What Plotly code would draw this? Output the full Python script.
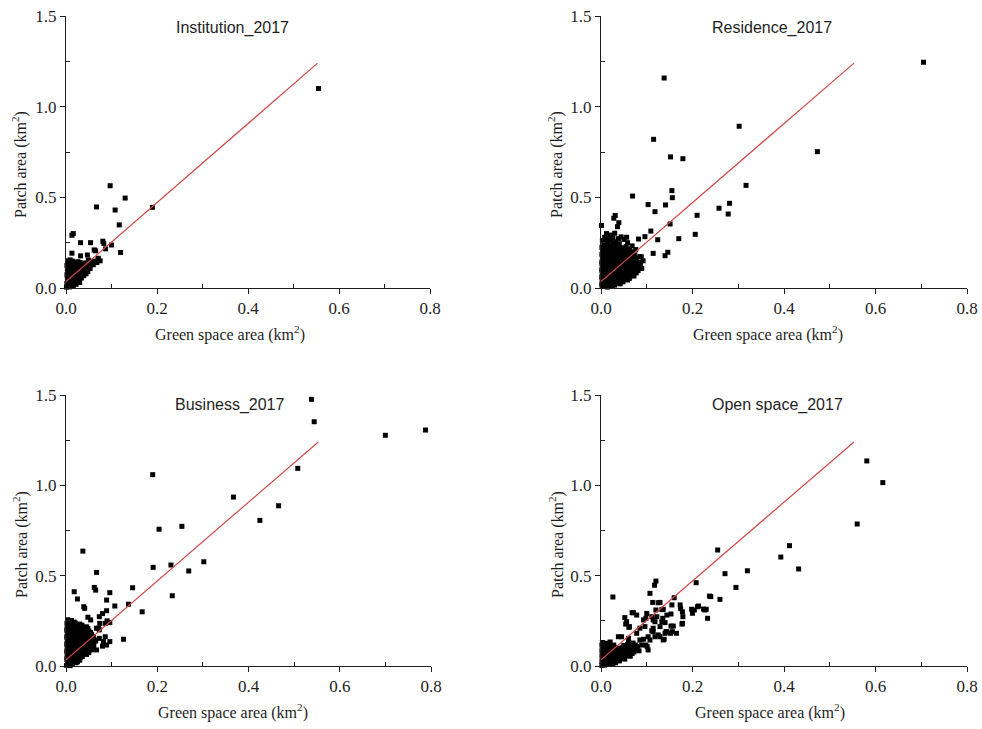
import plotly.graph_objects as go

# ---------------------------------------------------------------------------
# Green space area vs. patch area (km2), four land-use types, 2017
# ---------------------------------------------------------------------------

panel_titles = ["Institution_2017", "Residence_2017", "Business_2017", "Open space_2017"]

x_label = "Green space area (km<sup>2</sup>)"
y_label = "Patch area (km<sup>2</sup>)"

x_tick_vals = [0.0, 0.2, 0.4, 0.6, 0.8]
y_tick_vals = [0.0, 0.5, 1.0, 1.5]

# fitted relation drawn in every panel (end points of the line)
fit_x = [0.0, 0.553]
fit_y = [0.035, 1.24]

institution_pts = [
    (0.555, 1.100), (0.190, 0.445), (0.097, 0.564), (0.130, 0.496), (0.067, 0.447),
    (0.108, 0.430), (0.117, 0.348), (0.120, 0.196), (0.100, 0.237), (0.081, 0.258),
    (0.083, 0.246), (0.087, 0.216), (0.016, 0.300), (0.013, 0.291), (0.032, 0.250),
    (0.054, 0.250), (0.013, 0.192), (0.032, 0.177), (0.047, 0.182), (0.062, 0.210),
    (0.065, 0.205), (0.049, 0.154), (0.071, 0.164), (0.075, 0.150), (0.066, 0.145),
    (0.053, 0.108), (0.042, 0.099), (0.068, 0.140), (0.070, 0.156),
    (0.001, 0.005), (0.004, 0.012), (0.008, 0.006), (0.012, 0.018), (0.002, 0.025),
    (0.006, 0.032), (0.010, 0.040), (0.015, 0.030), (0.018, 0.045), (0.003, 0.048),
    (0.008, 0.058), (0.013, 0.062), (0.020, 0.058), (0.024, 0.070), (0.028, 0.062),
    (0.002, 0.072), (0.006, 0.082), (0.011, 0.088), (0.016, 0.078), (0.022, 0.090),
    (0.027, 0.084), (0.031, 0.096), (0.035, 0.088), (0.038, 0.104), (0.003, 0.098),
    (0.007, 0.110), (0.012, 0.104), (0.017, 0.116), (0.023, 0.112), (0.028, 0.120),
    (0.033, 0.115), (0.040, 0.122), (0.045, 0.112), (0.002, 0.125), (0.006, 0.138),
    (0.011, 0.132), (0.016, 0.142), (0.021, 0.136), (0.026, 0.145), (0.031, 0.140),
    (0.004, 0.150), (0.009, 0.155), (0.014, 0.148), (0.019, 0.040), (0.024, 0.035),
    (0.029, 0.048), (0.034, 0.055), (0.039, 0.068), (0.044, 0.078), (0.048, 0.090),
    (0.052, 0.125), (0.056, 0.135), (0.060, 0.128), (0.058, 0.148), (0.036, 0.130),
    (0.042, 0.138), (0.022, 0.020), (0.030, 0.030), (0.016, 0.010), (0.026, 0.050),
]

residence_pts = [
    (0.705, 1.245), (0.138, 1.158), (0.302, 0.892), (0.115, 0.820), (0.473, 0.752),
    (0.152, 0.723), (0.179, 0.713), (0.317, 0.566), (0.069, 0.507), (0.155, 0.537),
    (0.156, 0.498), (0.103, 0.460), (0.141, 0.458), (0.118, 0.421), (0.281, 0.467),
    (0.258, 0.440), (0.278, 0.408), (0.210, 0.401), (0.206, 0.296), (0.151, 0.353),
    (0.170, 0.272), (0.124, 0.266), (0.109, 0.314), (0.096, 0.283), (0.114, 0.191),
    (0.140, 0.178), (0.146, 0.197), (0.085, 0.173), (0.082, 0.270), (0.031, 0.400),
    (0.028, 0.385), (0.039, 0.360), (0.036, 0.338), (0.056, 0.280), (0.001, 0.345),
    (0.012, 0.300), (0.022, 0.292), (0.030, 0.302), (0.044, 0.282), (0.050, 0.268),
    (0.058, 0.250), (0.068, 0.232), (0.076, 0.212), (0.088, 0.172), (0.092, 0.150),
    (0.062, 0.215), (0.008, 0.280), (0.017, 0.278), (0.026, 0.275), (0.038, 0.272),
    (0.003, 0.262), (0.012, 0.258), (0.022, 0.266), (0.032, 0.255),
    (0.006, 0.243), (0.016, 0.246), (0.027, 0.240), (0.040, 0.244),
    (0.011, 0.235), (0.021, 0.233), (0.033, 0.236),
    (0.002, 0.224), (0.011, 0.227), (0.021, 0.221), (0.031, 0.226), (0.045, 0.222), (0.055, 0.228),
    (0.007, 0.215), (0.016, 0.217), (0.026, 0.213), (0.038, 0.216), (0.050, 0.212),
    (0.005, 0.205), (0.015, 0.208), (0.025, 0.202), (0.036, 0.207), (0.048, 0.203), (0.060, 0.206),
    (0.068, 0.200),
    (0.006, 0.196), (0.015, 0.193), (0.025, 0.197), (0.035, 0.194), (0.046, 0.195), (0.057, 0.197),
    (0.066, 0.192),
    (0.002, 0.186), (0.010, 0.183), (0.020, 0.188), (0.030, 0.182), (0.041, 0.187), (0.052, 0.184),
    (0.063, 0.189), (0.074, 0.183),
    (0.003, 0.175), (0.011, 0.177), (0.021, 0.173), (0.031, 0.176), (0.041, 0.174), (0.051, 0.177),
    (0.062, 0.173), (0.072, 0.176),
    (0.006, 0.166), (0.016, 0.163), (0.026, 0.168), (0.035, 0.162), (0.046, 0.167), (0.057, 0.164),
    (0.067, 0.169), (0.078, 0.161),
    (0.006, 0.155), (0.016, 0.157), (0.026, 0.153), (0.036, 0.156), (0.045, 0.154), (0.056, 0.157),
    (0.066, 0.153), (0.076, 0.156),
    (0.002, 0.144), (0.011, 0.147), (0.021, 0.142), (0.031, 0.146), (0.040, 0.143), (0.050, 0.148),
    (0.061, 0.142), (0.071, 0.147), (0.082, 0.141),
    (0.002, 0.135), (0.011, 0.133), (0.020, 0.137), (0.030, 0.134), (0.040, 0.136), (0.050, 0.133),
    (0.060, 0.137), (0.071, 0.134), (0.081, 0.136),
    (0.006, 0.126), (0.015, 0.123), (0.025, 0.128), (0.035, 0.122), (0.045, 0.127), (0.055, 0.124),
    (0.066, 0.128), (0.076, 0.122), (0.086, 0.126),
    (0.006, 0.115), (0.015, 0.117), (0.025, 0.113), (0.035, 0.116), (0.045, 0.114), (0.055, 0.117),
    (0.065, 0.113), (0.075, 0.116), (0.084, 0.114),
    (0.002, 0.104), (0.010, 0.107), (0.020, 0.102), (0.030, 0.106), (0.040, 0.103), (0.050, 0.108),
    (0.060, 0.102), (0.070, 0.106), (0.080, 0.103), (0.089, 0.108),
    (0.002, 0.095), (0.011, 0.093), (0.021, 0.097), (0.031, 0.094), (0.041, 0.096), (0.051, 0.093),
    (0.061, 0.097), (0.071, 0.094), (0.081, 0.096),
    (0.006, 0.086), (0.016, 0.083), (0.026, 0.088), (0.036, 0.082), (0.046, 0.087), (0.056, 0.084),
    (0.066, 0.088), (0.077, 0.083),
    (0.006, 0.075), (0.016, 0.077), (0.026, 0.073), (0.036, 0.076), (0.046, 0.074), (0.057, 0.077),
    (0.067, 0.073),
    (0.002, 0.064), (0.011, 0.067), (0.021, 0.062), (0.031, 0.066), (0.041, 0.063), (0.052, 0.068),
    (0.063, 0.062), (0.072, 0.066),
    (0.002, 0.055), (0.011, 0.057), (0.021, 0.053), (0.031, 0.056), (0.041, 0.054), (0.052, 0.057),
    (0.062, 0.053),
    (0.006, 0.046), (0.016, 0.043), (0.026, 0.048), (0.036, 0.042), (0.047, 0.047), (0.058, 0.044),
    (0.006, 0.035), (0.016, 0.037), (0.026, 0.033), (0.037, 0.036), (0.048, 0.034),
    (0.002, 0.024), (0.011, 0.027), (0.021, 0.022), (0.032, 0.026), (0.042, 0.023),
    (0.002, 0.015), (0.010, 0.017), (0.019, 0.013), (0.030, 0.016),
    (0.004, 0.008), (0.014, 0.005), (0.025, 0.010),
]

business_pts = [
    (0.538, 1.476), (0.544, 1.352), (0.700, 1.277), (0.788, 1.306), (0.508, 1.094),
    (0.190, 1.059), (0.367, 0.935), (0.466, 0.887), (0.425, 0.806), (0.254, 0.773),
    (0.204, 0.757), (0.037, 0.636), (0.302, 0.577), (0.230, 0.559), (0.191, 0.546),
    (0.269, 0.526), (0.067, 0.518), (0.233, 0.389), (0.146, 0.433), (0.137, 0.342),
    (0.167, 0.300), (0.126, 0.148), (0.096, 0.406), (0.089, 0.365), (0.107, 0.332),
    (0.062, 0.435), (0.065, 0.420), (0.018, 0.411), (0.025, 0.371), (0.039, 0.328),
    (0.041, 0.319), (0.048, 0.270), (0.089, 0.306), (0.080, 0.290), (0.074, 0.236),
    (0.071, 0.209), (0.086, 0.162), (0.089, 0.116), (0.096, 0.135), (0.090, 0.250),
    (0.073, 0.273), (0.054, 0.255), (0.086, 0.236), (0.096, 0.240), (0.067, 0.209),
    (0.073, 0.200), (0.073, 0.153), (0.082, 0.135), (0.060, 0.098), (0.056, 0.089),
    (0.067, 0.089), (0.052, 0.115), (0.080, 0.110),
    (0.004, 0.256), (0.012, 0.252),
    (0.008, 0.245), (0.018, 0.243),
    (0.002, 0.236), (0.010, 0.233), (0.020, 0.238), (0.030, 0.232),
    (0.006, 0.225), (0.015, 0.227), (0.025, 0.223), (0.035, 0.226),
    (0.005, 0.216), (0.015, 0.213), (0.025, 0.218), (0.036, 0.212), (0.045, 0.217),
    (0.002, 0.205), (0.010, 0.207), (0.020, 0.203), (0.030, 0.206), (0.040, 0.204), (0.048, 0.207),
    (0.002, 0.196), (0.010, 0.193), (0.020, 0.198), (0.030, 0.192), (0.040, 0.197), (0.050, 0.194),
    (0.006, 0.185), (0.015, 0.187), (0.025, 0.183), (0.035, 0.186), (0.045, 0.184), (0.054, 0.186),
    (0.006, 0.176), (0.016, 0.173), (0.026, 0.178), (0.036, 0.172), (0.046, 0.177), (0.056, 0.174),
    (0.002, 0.165), (0.011, 0.167), (0.021, 0.163), (0.031, 0.166), (0.041, 0.164), (0.051, 0.167),
    (0.058, 0.163),
    (0.002, 0.156), (0.011, 0.153), (0.021, 0.158), (0.031, 0.152), (0.041, 0.157), (0.051, 0.154),
    (0.060, 0.158),
    (0.006, 0.145), (0.016, 0.147), (0.026, 0.143), (0.036, 0.146), (0.046, 0.144), (0.056, 0.147),
    (0.063, 0.143),
    (0.006, 0.136), (0.016, 0.133), (0.026, 0.138), (0.036, 0.132), (0.046, 0.137), (0.056, 0.134),
    (0.065, 0.138),
    (0.002, 0.125), (0.011, 0.127), (0.021, 0.123), (0.031, 0.126), (0.041, 0.124), (0.051, 0.127),
    (0.060, 0.123),
    (0.002, 0.116), (0.011, 0.113), (0.021, 0.118), (0.031, 0.112), (0.041, 0.117), (0.051, 0.114),
    (0.061, 0.118),
    (0.006, 0.105), (0.016, 0.107), (0.026, 0.103), (0.036, 0.106), (0.046, 0.104), (0.056, 0.106),
    (0.006, 0.096), (0.016, 0.093), (0.026, 0.098), (0.036, 0.092), (0.046, 0.097), (0.056, 0.094),
    (0.002, 0.085), (0.011, 0.087), (0.021, 0.083), (0.031, 0.086), (0.041, 0.084), (0.050, 0.086),
    (0.002, 0.076), (0.011, 0.073), (0.021, 0.078), (0.031, 0.072), (0.041, 0.077), (0.050, 0.074),
    (0.006, 0.065), (0.016, 0.067), (0.026, 0.063), (0.036, 0.066), (0.045, 0.064),
    (0.006, 0.056), (0.016, 0.053), (0.026, 0.058), (0.036, 0.052),
    (0.002, 0.045), (0.011, 0.047), (0.021, 0.043), (0.031, 0.046),
    (0.002, 0.036), (0.011, 0.033), (0.021, 0.038), (0.030, 0.032),
    (0.006, 0.025), (0.016, 0.027), (0.025, 0.023),
    (0.005, 0.016), (0.014, 0.013), (0.022, 0.018),
    (0.001, 0.004), (0.009, 0.002),
]

open_space_pts = [
    (0.581, 1.135), (0.616, 1.015), (0.560, 0.786), (0.412, 0.666), (0.393, 0.603),
    (0.432, 0.537), (0.255, 0.642), (0.271, 0.511), (0.320, 0.527), (0.295, 0.435),
    (0.208, 0.461), (0.260, 0.369), (0.237, 0.387), (0.240, 0.384), (0.160, 0.378),
    (0.120, 0.470), (0.117, 0.447), (0.107, 0.402), (0.026, 0.382), (0.113, 0.352),
    (0.129, 0.352), (0.133, 0.312), (0.100, 0.291), (0.052, 0.268), (0.071, 0.295),
    (0.078, 0.282), (0.062, 0.218), (0.038, 0.162), (0.155, 0.338), (0.173, 0.338),
    (0.174, 0.317), (0.179, 0.273), (0.198, 0.314), (0.200, 0.292), (0.211, 0.328),
    (0.224, 0.315), (0.230, 0.314), (0.233, 0.264), (0.177, 0.232), (0.158, 0.221),
    (0.152, 0.181), (0.165, 0.181), (0.138, 0.148), (0.142, 0.190), (0.125, 0.172),
    (0.129, 0.218), (0.118, 0.245), (0.114, 0.209), (0.111, 0.195), (0.103, 0.162),
    (0.093, 0.148), (0.101, 0.107), (0.096, 0.218), (0.093, 0.255), (0.098, 0.264),
    (0.085, 0.209), (0.078, 0.181), (0.111, 0.273), (0.120, 0.310), (0.135, 0.264),
    (0.144, 0.282), (0.056, 0.245), (0.054, 0.232), (0.068, 0.295), (0.061, 0.214),
    (0.114, 0.255), (0.122, 0.273), (0.125, 0.350), (0.136, 0.314), (0.153, 0.288),
    (0.133, 0.245), (0.140, 0.240), (0.114, 0.190), (0.118, 0.162), (0.107, 0.144),
    (0.103, 0.089), (0.129, 0.162), (0.140, 0.181), (0.144, 0.190), (0.156, 0.190),
    (0.136, 0.144), (0.153, 0.221), (0.178, 0.300), (0.178, 0.236), (0.204, 0.310),
    (0.213, 0.332), (0.227, 0.310), (0.085, 0.144), (0.089, 0.116), (0.098, 0.116),
    (0.078, 0.107), (0.074, 0.089), (0.045, 0.162), (0.060, 0.153),
    (0.003, 0.130), (0.012, 0.126), (0.020, 0.133), (0.060, 0.131), (0.070, 0.127),
    (0.002, 0.115), (0.009, 0.118), (0.018, 0.112), (0.028, 0.116), (0.050, 0.114),
    (0.058, 0.118), (0.066, 0.112), (0.075, 0.116), (0.006, 0.108), (0.024, 0.108),
    (0.004, 0.100), (0.012, 0.103), (0.020, 0.098), (0.030, 0.102), (0.040, 0.099),
    (0.048, 0.104), (0.056, 0.098), (0.064, 0.102), (0.072, 0.099), (0.080, 0.103),
    (0.016, 0.092), (0.036, 0.092), (0.044, 0.093), (0.052, 0.092), (0.060, 0.094),
    (0.068, 0.091), (0.076, 0.093),
    (0.002, 0.085), (0.009, 0.088), (0.017, 0.083), (0.025, 0.087), (0.033, 0.082),
    (0.042, 0.086), (0.050, 0.083), (0.058, 0.088), (0.066, 0.082), (0.074, 0.086),
    (0.083, 0.084),
    (0.006, 0.078), (0.016, 0.077), (0.032, 0.077), (0.048, 0.078), (0.064, 0.077),
    (0.072, 0.078),
    (0.005, 0.070), (0.012, 0.073), (0.020, 0.068), (0.028, 0.072), (0.036, 0.069),
    (0.044, 0.073), (0.052, 0.068), (0.060, 0.072), (0.068, 0.069),
    (0.024, 0.062), (0.040, 0.064), (0.056, 0.064),
    (0.002, 0.055), (0.009, 0.058), (0.016, 0.053), (0.024, 0.057), (0.032, 0.054),
    (0.040, 0.058), (0.048, 0.053), (0.056, 0.057), (0.064, 0.054),
    (0.006, 0.048), (0.016, 0.046), (0.032, 0.047), (0.048, 0.046),
    (0.004, 0.040), (0.012, 0.043), (0.020, 0.038), (0.028, 0.042), (0.036, 0.039),
    (0.044, 0.043), (0.052, 0.038),
    (0.014, 0.032), (0.024, 0.033), (0.040, 0.034),
    (0.002, 0.025), (0.009, 0.028), (0.016, 0.023), (0.024, 0.027), (0.032, 0.024),
    (0.040, 0.028),
    (0.006, 0.018), (0.022, 0.018), (0.032, 0.018),
    (0.003, 0.012), (0.010, 0.015), (0.018, 0.010), (0.026, 0.014),
    (0.002, 0.003), (0.008, 0.005),
]

panel_points = [institution_pts, residence_pts, business_pts, open_space_pts]

# ---------------------------------------------------------------------------
# page geometry (pixels): plot-area boxes left, right, top, bottom
# ---------------------------------------------------------------------------
W, H = 982, 729
boxes = [(66, 430, 16, 288), (601, 967, 16, 288), (66, 431, 395, 666), (601, 967, 395, 666)]
title_pos = [(232, 28), (772, 28), (230, 405), (777, 405)]
xlab_pos = [(230, 333), (768, 333), (233, 711), (770, 711)]
ylab_pos = [(20, 165), (556, 165), (20, 545), (556, 545)]

INK = "#1e1e1e"
SERIF = "Liberation Serif, Times New Roman, serif"
SANS = "Liberation Sans, Arial, sans-serif"


def px(x):
    return x / W


def py(y):
    return 1 - y / H


fig = go.Figure()
annotations = []
layout_axes = {}

for i, (pts, title, box) in enumerate(zip(panel_points, panel_titles, boxes)):
    n = "" if i == 0 else str(i + 1)
    xs = [p[0] for p in pts]
    ys = [p[1] for p in pts]
    fig.add_trace(go.Scatter(
        x=xs, y=ys, mode="markers", xaxis="x" + n, yaxis="y" + n,
        marker=dict(symbol="square", size=5, color="#000000", line=dict(width=0)),
        cliponaxis=False, showlegend=False, hoverinfo="x+y",
    ))
    fig.add_trace(go.Scatter(
        x=fit_x, y=fit_y, mode="lines", xaxis="x" + n, yaxis="y" + n,
        line=dict(color="#d04848", width=1.2), showlegend=False, hoverinfo="skip",
    ))

    left, right, top, bottom = box
    common = dict(
        showline=True, linecolor=INK, linewidth=1,
        ticks="outside", ticklen=5, tickwidth=1, tickcolor=INK,
        showgrid=False, zeroline=False, fixedrange=True, automargin=False,
        tickfont=dict(family=SERIF, size=17, color=INK),
        tickformat=".1f", tickmode="array",
    )
    layout_axes["xaxis" + n] = dict(
        common, domain=[px(left), px(right)], anchor="y" + n, range=[0, 0.8],
        tickvals=x_tick_vals,
        minor=dict(ticks="inside", ticklen=4, tickwidth=1, tickcolor=INK,
                   tickmode="array", tickvals=[0.1, 0.3, 0.5, 0.7]),
    )
    layout_axes["yaxis" + n] = dict(
        common, domain=[py(bottom), py(top)], anchor="x" + n, range=[0, 1.5],
        tickvals=y_tick_vals,
        minor=dict(ticks="inside", ticklen=4, tickwidth=1, tickcolor=INK,
                   tickmode="array", tickvals=[0.25, 0.75, 1.25]),
    )

    tx, ty = title_pos[i]
    annotations.append(dict(
        text=title, x=px(tx), y=py(ty), xref="paper", yref="paper",
        showarrow=False, xanchor="center", yanchor="middle",
        font=dict(family=SANS, size=16, color=INK),
    ))
    lx, ly = xlab_pos[i]
    annotations.append(dict(
        text=x_label, x=px(lx), y=py(ly), xref="paper", yref="paper",
        showarrow=False, xanchor="center", yanchor="middle",
        font=dict(family=SERIF, size=16, color=INK),
    ))
    vx, vy = ylab_pos[i]
    annotations.append(dict(
        text=y_label, x=px(vx), y=py(vy), xref="paper", yref="paper",
        showarrow=False, xanchor="center", yanchor="middle", textangle=-90,
        font=dict(family=SERIF, size=16, color=INK),
    ))

fig.update_layout(
    template="none",
    width=W, height=H,
    margin=dict(l=0, r=0, t=0, b=0, autoexpand=False),
    paper_bgcolor="white", plot_bgcolor="white",
    annotations=annotations,
    **layout_axes,
)

fig.write_html("out.html", config={"displayModeBar": False})
